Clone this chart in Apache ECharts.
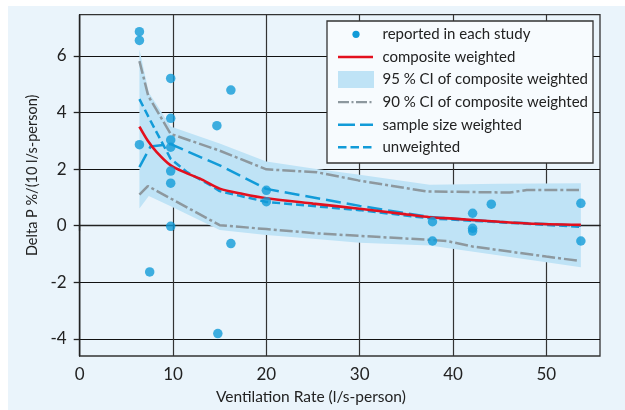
<!DOCTYPE html>
<html><head><meta charset="utf-8">
<script src="https://cdn.jsdelivr.net/npm/echarts@6/dist/echarts.min.js"></script>
<style>
html,body{margin:0;padding:0;background:#fff;}
#bg{position:absolute;left:8px;top:6px;width:617px;height:404px;background:#eaf4fb;}
#chart{position:absolute;left:0;top:0;width:625px;height:410px;}
</style></head>
<body><div id="bg"></div><div id="chart"></div>
<script>
// ---- data ----
const xTicks = [0, 10, 20, 30, 40, 50];
const yTicks = [-4, -2, 0, 2, 4, 6];

const reportedX = [6.4, 6.4, 6.4, 7.5, 9.75, 9.75, 9.75, 9.75, 9.75, 9.75, 9.75, 14.7, 14.8, 16.2, 16.2, 20, 20, 37.8, 37.8, 42.1, 42.1, 42.1, 44.1, 53.7, 53.7];
const reportedY = [6.85, 6.54, 2.86, -1.63, 5.20, 3.79, 3.03, 2.77, 1.93, 1.50, -0.02, 3.53, -3.81, 4.79, -0.63, 1.25, 0.85, 0.14, -0.54, 0.44, -0.09, -0.19, 0.76, 0.79, -0.54];

const compX = [6.4, 7.3, 8.25, 9.75, 11.5, 12.9, 15, 17.5, 20, 25, 30, 35, 37.5, 40, 45, 48, 53.7];
const compY = [3.50, 3.00, 2.60, 2.13, 1.85, 1.66, 1.31, 1.12, 0.97, 0.78, 0.60, 0.40, 0.30, 0.25, 0.14, 0.08, 0.03];

const ci95X = [6.4, 7.4, 9.75, 15, 20, 25, 30, 37.5, 45, 53.7];
const ci95Upper = [6.22, 4.70, 3.50, 2.90, 2.27, 2.02, 1.80, 1.45, 1.48, 1.50];
const ci95Lower = [0.61, 1.05, 0.69, -0.15, -0.33, -0.46, -0.60, -0.70, -1.05, -1.47];

const ci90UpperX = [6.4, 7.35, 9.75, 15, 20, 25.4, 29.85, 37.2, 46.1, 47.9, 53.5];
const ci90Upper = [5.81, 4.58, 3.24, 2.65, 1.99, 1.89, 1.60, 1.21, 1.17, 1.26, 1.26];
const ci90LowerX = [6.4, 7.3, 9.75, 15, 20, 25.4, 30, 37.5, 39.3, 42.2, 50, 53.5];
const ci90Lower = [1.10, 1.40, 0.96, 0.02, -0.12, -0.27, -0.36, -0.50, -0.54, -0.74, -1.09, -1.24];

const sampleX = [6.4, 7.6, 9.75, 15, 20, 30, 37.5, 44.7, 53.7];
const sampleY = [2.07, 2.80, 2.88, 2.13, 1.30, 0.70, 0.31, 0.14, 0.00];

const unweightedX = [6.4, 7.5, 8.8, 9.75, 11.5, 14, 15, 20, 30, 37.5, 53.7];
const unweightedY = [4.47, 3.76, 2.95, 2.36, 1.89, 1.43, 1.22, 0.84, 0.55, 0.26, -0.04];

const legendLabels = ['reported in each study', 'composite weighted', '95 % CI of composite weighted', '90 % CI of composite weighted', 'sample size weighted', 'unweighted'];
const xAxisTitle = 'Ventilation Rate (l/s-person)';
const yAxisTitle = 'Delta P %/(10 l/s-person)';

// ---- style ----
const BLUE = '#129bd8', RED = '#e3101e', GRAY = '#8d989e', BAND = '#bfe3f6';
const FONT = 'Lato';
const zip = (xs, ys) => xs.map((x, i) => [x, ys[i]]);

const chart = echarts.init(document.getElementById('chart'), null, {renderer: 'canvas'});

const legendTop = 34.3, legendStep = 22.6, iconL = 338, iconR = 373, textX = 382.5;
const lg = [];
lg.push({type: 'rect', shape: {x: 327, y: 21, width: 266, height: 142}, style: {fill: '#f7fbfe', stroke: '#333', lineWidth: 1.3}, z: 100});
lg.push({type: 'circle', shape: {cx: 356, cy: legendTop, r: 3.6}, style: {fill: BLUE}, z: 101});
lg.push({type: 'line', shape: {x1: iconL, y1: legendTop + legendStep, x2: iconR, y2: legendTop + legendStep}, style: {stroke: RED, lineWidth: 2.5}, z: 101});
lg.push({type: 'rect', shape: {x: iconL, y: legendTop + 2 * legendStep - 8.5, width: 36, height: 17}, style: {fill: BAND}, z: 101});
lg.push({type: 'line', shape: {x1: iconL, y1: legendTop + 3 * legendStep, x2: iconR, y2: legendTop + 3 * legendStep}, style: {stroke: GRAY, lineWidth: 2.2, lineDash: [11, 2.5, 2, 2.5]}, z: 101});
lg.push({type: 'line', shape: {x1: iconL, y1: legendTop + 4 * legendStep, x2: iconR, y2: legendTop + 4 * legendStep}, style: {stroke: BLUE, lineWidth: 2.5, lineDash: [17, 5]}, z: 101});
lg.push({type: 'line', shape: {x1: iconL, y1: legendTop + 5 * legendStep, x2: iconR, y2: legendTop + 5 * legendStep}, style: {stroke: BLUE, lineWidth: 2.5, lineDash: [8.5, 4]}, z: 101});
legendLabels.forEach((t, i) => {
  lg.push({type: 'text', x: textX, y: legendTop + i * legendStep, style: {text: t, fill: '#222', font: '15px "' + FONT + '"', textVerticalAlign: 'middle', textAlign: 'left'}, z: 101});
});

function lineSeries(name, xs, ys, color, width, dash, smooth, z) {
  return {
    name, type: 'line', data: zip(xs, ys), showSymbol: false, symbol: 'none', smooth: smooth,
    lineStyle: {color, width, type: dash}, z, silent: true, animation: false
  };
}

chart.setOption({
  animation: false,
  backgroundColor: 'transparent',
  grid: {left: 79.7, right: 25, top: 14.7, bottom: 51.7, show: true, borderColor: '#333', borderWidth: 1.3, backgroundColor: 'transparent'},
  xAxis: {
    type: 'value', min: 0, max: 55.75, interval: 10,
    axisLine: {lineStyle: {color: '#222', width: 1.3}},
    axisTick: {show: true, length: 5, inside: false, customValues: xTicks, lineStyle: {color: '#222', width: 1.3}},
    axisLabel: {customValues: xTicks, margin: 10, color: '#222', fontSize: 17, fontFamily: FONT},
    splitLine: {show: true, lineStyle: {color: '#333', width: 1.2}},
    name: xAxisTitle, nameLocation: 'middle', nameGap: 33,
    nameTextStyle: {color: '#222', fontSize: 15.5, fontFamily: FONT, padding: [0, 58, 0, 0]}
  },
  yAxis: {
    type: 'value', min: -4.6, max: 7.45, splitNumber: 6,
    axisLine: {show: true, lineStyle: {color: '#222', width: 1.3}},
    axisTick: {show: true, length: 6, inside: false, customValues: yTicks, lineStyle: {color: '#222', width: 1.3}},
    axisLabel: {customValues: yTicks, margin: 13, color: '#222', fontSize: 17, fontFamily: FONT},
    splitLine: {show: true, lineStyle: {color: '#111', width: 1.2}},
    name: yAxisTitle, nameLocation: 'middle', nameGap: 36,
    nameTextStyle: {color: '#222', fontSize: 14.5, fontFamily: FONT, padding: [0, 0, 0, 20]}
  },
  graphic: lg,
  series: [
    {
      name: legendLabels[2], type: 'custom', silent: true, z: 1,
      data: ci95X.map((x, i) => [x, ci95Lower[i], ci95Upper[i]]),
      encode: {x: 0, y: [1, 2]},
      renderItem: function (params, api) {
        if (params.dataIndex !== 0) return null;
        const pts = [];
        for (let i = 0; i < ci95X.length; i++) pts.push(api.coord([ci95X[i], ci95Upper[i]]));
        for (let i = ci95X.length - 1; i >= 0; i--) pts.push(api.coord([ci95X[i], ci95Lower[i]]));
        return {type: 'polygon', shape: {points: pts}, style: {fill: BAND}};
      }
    },
    lineSeries(legendLabels[3], ci90UpperX, ci90Upper, GRAY, 2.5, [13, 3, 3, 3], false, 2),
    lineSeries(legendLabels[3] + ' lower', ci90LowerX, ci90Lower, GRAY, 2.5, [13, 3, 3, 3], false, 2),
    lineSeries(legendLabels[5], unweightedX, unweightedY, BLUE, 2.5, [8, 4], false, 3),
    lineSeries(legendLabels[4], sampleX, sampleY, BLUE, 2.5, [15, 6], false, 4),
    lineSeries(legendLabels[1], compX, compY, RED, 2.6, 'solid', 0.3, 5),
    {
      name: legendLabels[0], type: 'scatter', data: zip(reportedX, reportedY),
      symbol: 'circle', symbolSize: 9.5, itemStyle: {color: BLUE}, z: 6, silent: true
    }
  ]
});
</script></body></html>
